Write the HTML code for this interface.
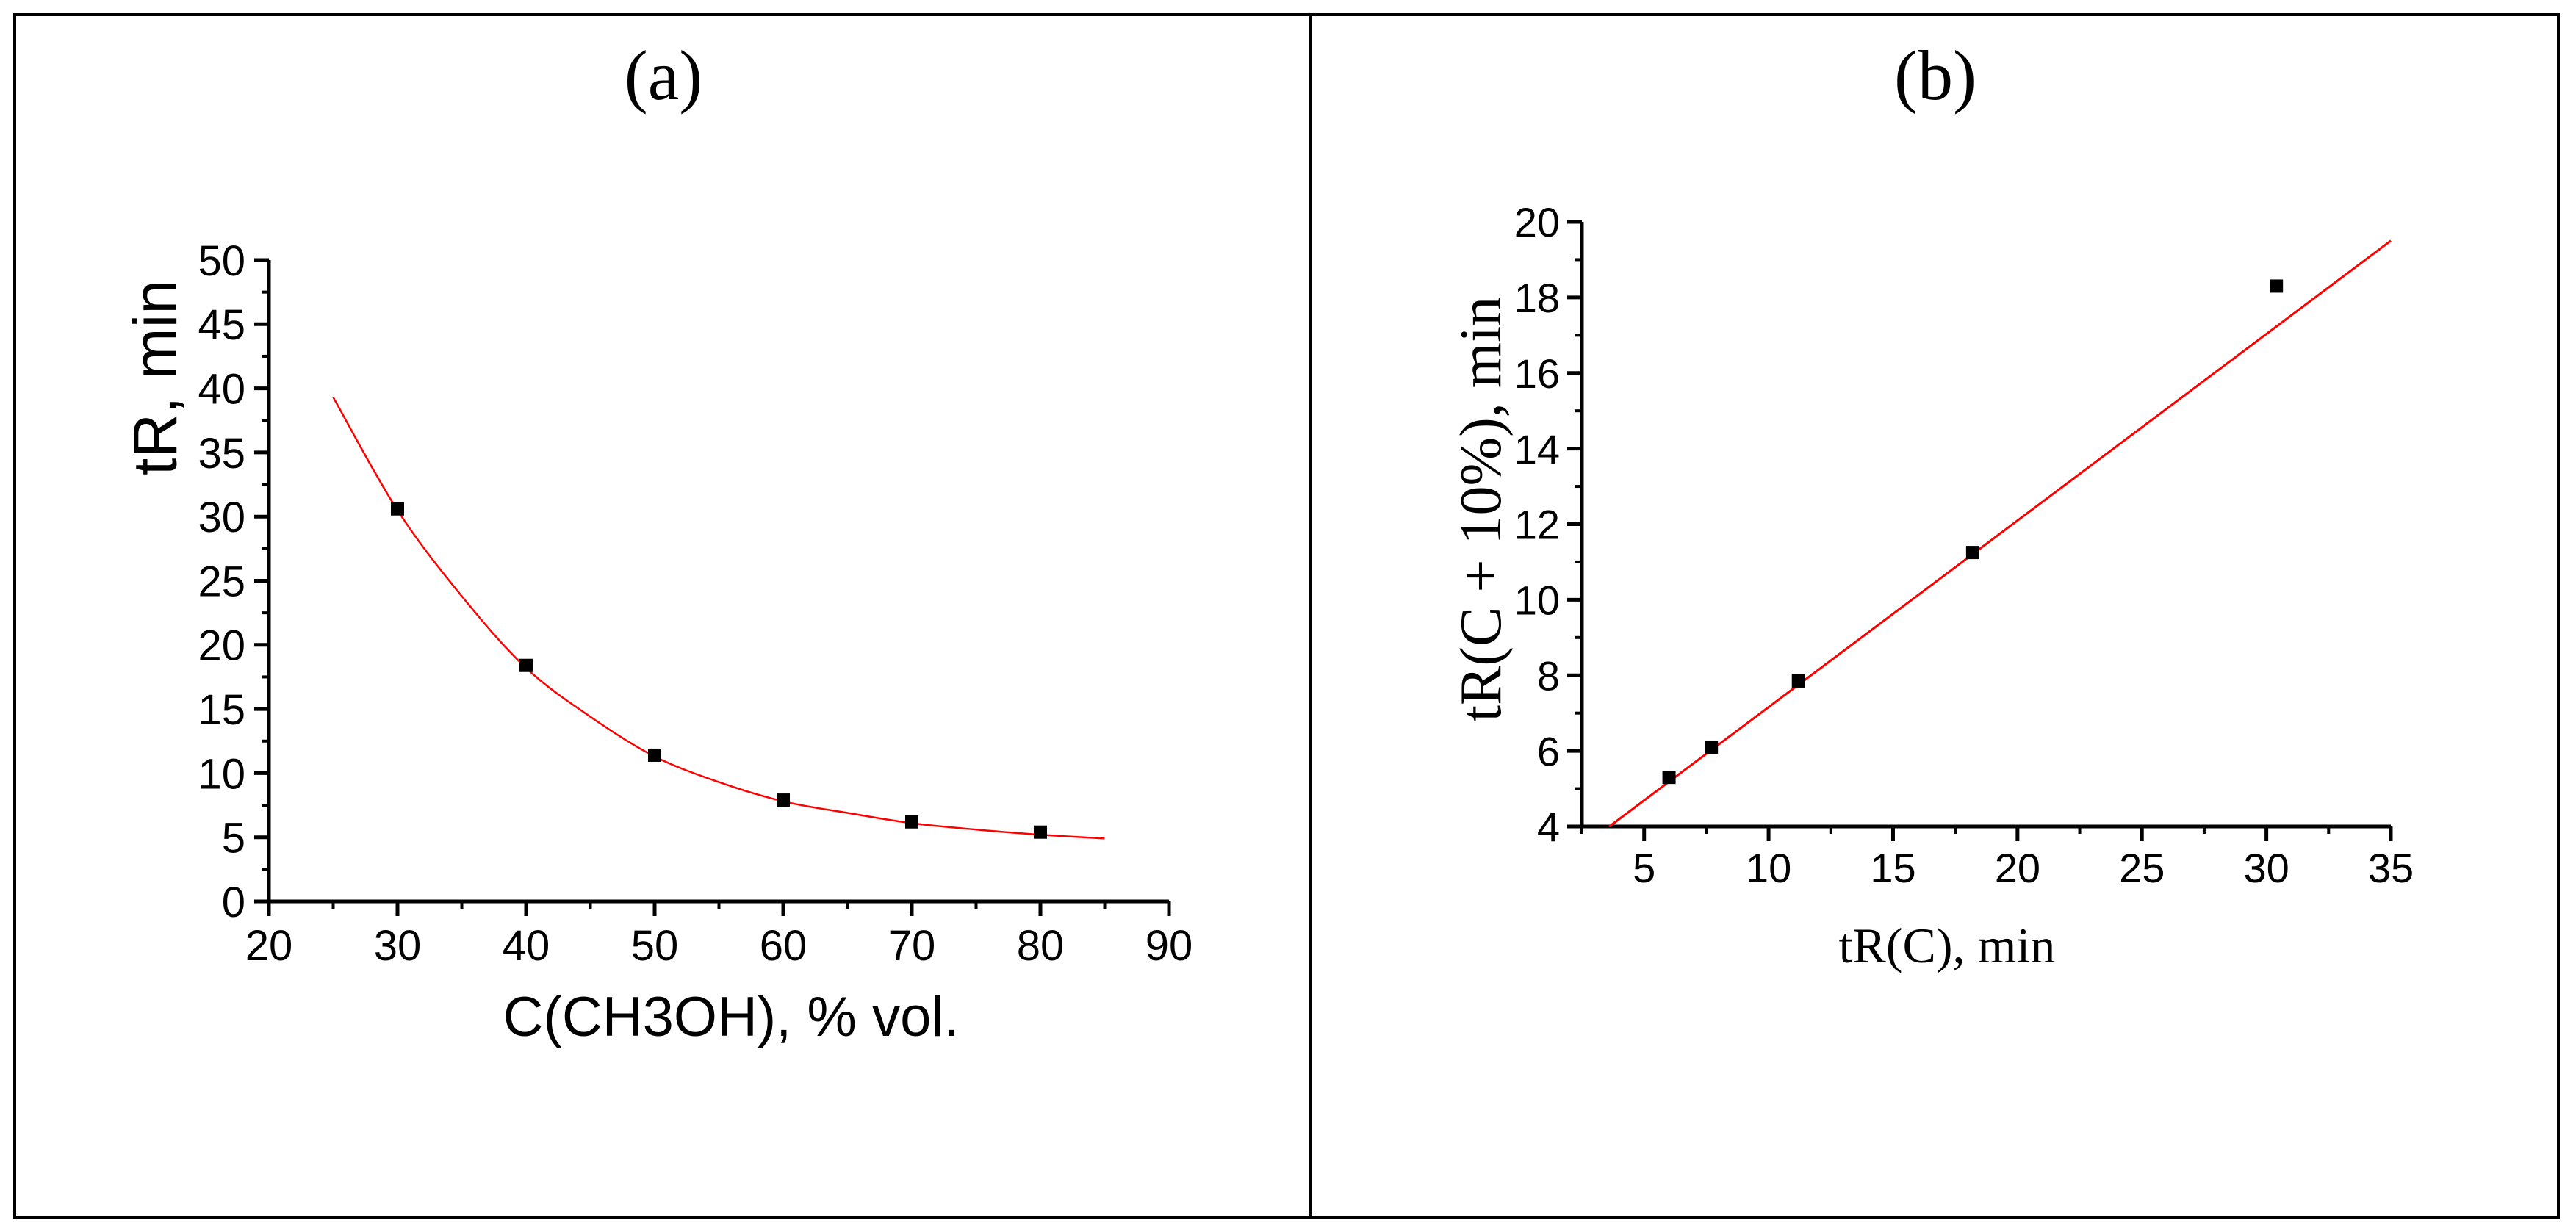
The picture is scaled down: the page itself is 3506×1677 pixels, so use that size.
<!DOCTYPE html>
<html><head><meta charset="utf-8"><style>
html,body{margin:0;padding:0;background:#fff;}
svg{display:block;}
</style></head><body>
<svg id="fig" width="3506" height="1677" viewBox="0 0 3506 1677" xmlns="http://www.w3.org/2000/svg">
<rect x="0" y="0" width="3506" height="1677" fill="#fff"/>
<rect x="20" y="20" width="3462" height="1637" fill="none" stroke="#000" stroke-width="4"/>
<line x1="1784" y1="20" x2="1784" y2="1657" stroke="#000" stroke-width="4"/>
<text x="903" y="135" font-family="Liberation Serif, serif" font-size="96" text-anchor="middle">(a)</text>
<text x="2634" y="135" font-family="Liberation Serif, serif" font-size="96" text-anchor="middle">(b)</text>
<g id="pa"></g>
<g id="pb"></g>
</svg>
<script>
// Panel (a) data
const aXTicks = [20,30,40,50,60,70,80,90];
const aYTicks = [0,5,10,15,20,25,30,35,40,45,50];
const aPointX = [30,40,50,60,70,80];
const aPointY = [30.6,18.4,11.4,7.9,6.2,5.4];
const aFitX = [25,30,35,40,45,50,55,60,65,70,75,80,85];
const aFitY = [39.3,30.5,23.8,18.2,14.4,11.3,9.3,7.8,6.9,6.1,5.6,5.2,4.9];
// Panel (b) data
const bXTicks = [5,10,15,20,25,30,35];
const bYTicks = [4,6,8,10,12,14,16,18,20];
const bPointX = [6.0,7.7,11.2,18.2,30.4];
const bPointY = [5.3,6.1,7.85,11.25,18.3];
const bFitX = [3.6,35];
const bFitY = [4.0,19.5];

const NS='http://www.w3.org/2000/svg';
function mk(parent,tag,attrs,text){const e=document.createElementNS(NS,tag);for(const k in attrs)e.setAttribute(k,attrs[k]);if(text!==undefined)e.textContent=text;parent.appendChild(e);return e;}

function drawPanel(g,cfg){
  const sx=v=>cfg.x0+(v-cfg.xmin)/(cfg.xmax-cfg.xmin)*(cfg.x1-cfg.x0);
  const sy=v=>cfg.y0-(v-cfg.ymin)/(cfg.ymax-cfg.ymin)*(cfg.y0-cfg.y1);
  const ax=mk(g,'path',{d:`M${cfg.x0} ${cfg.y1}V${cfg.y0}H${cfg.x1}`,fill:'none',stroke:'#000','stroke-width':5});
  
  
  for(let v=cfg.xmin;v<=cfg.xmax+1e-9;v+=cfg.xminor){
    const t=mk(g,'line',{x1:sx(v),x2:sx(v),y1:cfg.y0,y2:cfg.y0+10,stroke:'#000','stroke-width':4});
    
    
  }
  for(let v=cfg.ymin;v<=cfg.ymax+1e-9;v+=cfg.yminor){
    const t=mk(g,'line',{x1:cfg.x0-10,x2:cfg.x0,y1:sy(v),y2:sy(v),stroke:'#000','stroke-width':4});
    
    
  }
  cfg.xt.forEach(v=>{
    const t=mk(g,'line',{x1:sx(v),x2:sx(v),y1:cfg.y0,y2:cfg.y0+20,stroke:'#000','stroke-width':5});
    
    
    const l=mk(g,'text',{x:sx(v),y:cfg.y0+cfg.xlabOff,'font-family':'Liberation Sans, sans-serif','font-size':cfg.fs,'text-anchor':'middle'},String(v));
    
    
  });
  cfg.yt.forEach(v=>{
    const t=mk(g,'line',{x1:cfg.x0-20,x2:cfg.x0,y1:sy(v),y2:sy(v),stroke:'#000','stroke-width':5});
    
    
    const l=mk(g,'text',{x:cfg.x0-cfg.ylabOff,y:sy(v)+cfg.fs*0.36,'font-family':'Liberation Sans, sans-serif','font-size':cfg.fs,'text-anchor':'end'},String(v));
    
    
  });
  // fit curve, smoothed (Catmull-Rom) through the read points
  const P=cfg.fx.map((v,i)=>[sx(v),sy(cfg.fy[i])]);
  let d='M'+P[0][0].toFixed(1)+' '+P[0][1].toFixed(1);
  for(let i=0;i<P.length-1;i++){
    const p0=P[Math.max(0,i-1)],p1=P[i],p2=P[i+1],p3=P[Math.min(P.length-1,i+2)];
    const c1=[p1[0]+(p2[0]-p0[0])/6,p1[1]+(p2[1]-p0[1])/6];
    const c2=[p2[0]-(p3[0]-p1[0])/6,p2[1]-(p3[1]-p1[1])/6];
    d+=`C${c1[0].toFixed(1)} ${c1[1].toFixed(1)} ${c2[0].toFixed(1)} ${c2[1].toFixed(1)} ${p2[0].toFixed(1)} ${p2[1].toFixed(1)}`;
  }
  const fit=mk(g,'path',{d:d,fill:'none',stroke:'#ff0000','stroke-width':cfg.fitW,'stroke-linejoin':'round'});
  
  
  cfg.px.forEach((v,i)=>{
    const r=mk(g,'rect',{x:sx(v)-9,y:sy(cfg.py[i])-9,width:18,height:18,fill:'#000'});
    
    
  });
}

const pa=document.getElementById('pa');
drawPanel(pa,{x0:366,x1:1591,y0:1227,y1:354,xmin:20,xmax:90,ymin:0,ymax:50,xminor:5,yminor:2.5,
  xt:aXTicks,yt:aYTicks,px:aPointX,py:aPointY,fx:aFitX,fy:aFitY,fs:58,xlabOff:80,ylabOff:32,fitW:2.5});
const at=document.createElementNS(NS,'text');
at.setAttribute('x','995');at.setAttribute('y','1410');at.setAttribute('font-family','Liberation Sans, sans-serif');at.setAttribute('font-size','76');at.setAttribute('text-anchor','middle');
at.textContent='C(CH3OH), % vol.';


pa.appendChild(at);
const ay=document.createElementNS(NS,'text');
ay.setAttribute('transform','translate(240,514) rotate(-90)');ay.setAttribute('font-family','Liberation Sans, sans-serif');ay.setAttribute('font-size','84');ay.setAttribute('text-anchor','middle');
ay.textContent='tR, min';


pa.appendChild(ay);

const pb=document.getElementById('pb');
drawPanel(pb,{x0:2153,x1:3254,y0:1125,y1:302,xmin:2.5,xmax:35,ymin:4,ymax:20,xminor:2.5,yminor:1,
  xt:bXTicks,yt:bYTicks,px:bPointX,py:bPointY,fx:bFitX,fy:bFitY,fs:56,xlabOff:76,ylabOff:30,fitW:3});
const bt=document.createElementNS(NS,'text');
bt.setAttribute('x','2650');bt.setAttribute('y','1310');bt.setAttribute('font-family','Liberation Serif, serif');bt.setAttribute('font-size','68');bt.setAttribute('text-anchor','middle');
bt.textContent='tR(C), min';


pb.appendChild(bt);
const by=document.createElementNS(NS,'text');
by.setAttribute('transform','translate(2042,693) rotate(-90)');by.setAttribute('font-family','Liberation Serif, serif');by.setAttribute('font-size','80');by.setAttribute('text-anchor','middle');
by.textContent='tR(C + 10%), min';


pb.appendChild(by);
</script>
</body></html>
